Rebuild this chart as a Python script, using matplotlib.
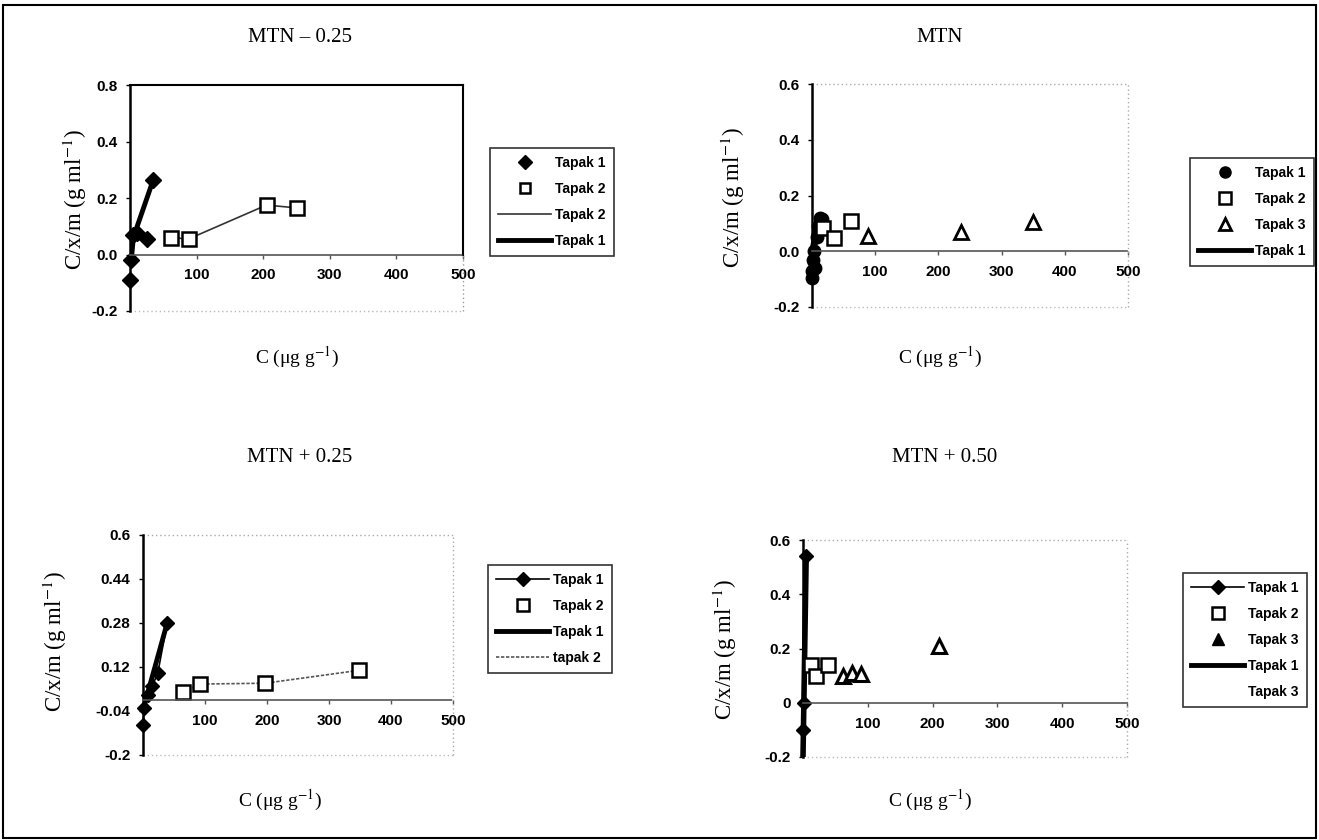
import matplotlib
matplotlib.use('Agg')
import matplotlib.pyplot as plt
from matplotlib.lines import Line2D
from matplotlib.patches import Rectangle

plt.rcParams['font.family'] = ['Liberation Sans', 'DejaVu Sans']
plt.rcParams['mathtext.fontset'] = 'stix'

W, H = 1319, 840

# MTN - 0.25
a_t1_x = [0, 2, 5, 10, 25, 35]
a_t1_y = [-0.09, -0.02, 0.07, 0.075, 0.055, 0.265]
a_t1_line_x = [2, 5, 35]
a_t1_line_y = [-0.02, 0.06, 0.265]
a_t2_x = [62, 88, 205, 250]
a_t2_y = [0.06, 0.055, 0.175, 0.165]
a_yticks = [-0.2, 0.0, 0.2, 0.4, 0.6]
a_ylabels = ['-0.2', '0.0', '0.2', '0.4', '0.8']

# MTN
b_t1_x = [0, 0, 1, 3, 5, 8, 10, 13, 16]
b_t1_y = [-0.095, -0.07, -0.03, 0.0, -0.06, 0.05, 0.09, 0.12, 0.115]
b_t1_line_x = [0, 0, 3, 8, 14]
b_t1_line_y = [-0.1, -0.03, 0.02, 0.08, 0.125]
b_t2_x = [17, 35, 62]
b_t2_y = [0.085, 0.047, 0.11]
b_t3_x = [88, 236, 349]
b_t3_y = [0.053, 0.07, 0.105]
b_yticks = [-0.2, 0.0, 0.2, 0.4, 0.6]
b_ylabels = ['-0.2', '0.0', '0.2', '0.4', '0.6']

# MTN + 0.25
c_t1_x = [0, 2, 8, 15, 24, 39]
c_t1_y = [-0.09, -0.03, 0.02, 0.05, 0.10, 0.28]
c_t1_line_x = [2, 39]
c_t1_line_y = [-0.02, 0.28]
c_t2_x = [65, 92, 197, 349]
c_t2_y = [0.028, 0.058, 0.061, 0.108]
c_yticks = [-0.2, -0.04, 0.12, 0.28, 0.44, 0.6]
c_ylabels = ['-0.2', '-0.04', '0.12', '0.28', '0.44', '0.6']

# MTN + 0.50
d_t1_x = [0, 2, 5]
d_t1_y = [-0.1, 0.0, 0.54]
d_t1_line_x = [0, 5]
d_t1_line_y = [-0.2, 0.55]
d_t2_x = [12, 20, 38]
d_t2_y = [0.14, 0.10, 0.14]
d_t3_x = [62, 76, 90, 210]
d_t3_y = [0.10, 0.11, 0.105, 0.21]
d_yticks = [-0.2, 0.0, 0.2, 0.4, 0.6]
d_ylabels = ['-0.2', '0', '0.2', '0.4', '0.6']

xticks = [100, 200, 300, 400, 500]


def fx(px):
    return px / W


def fy(py):
    return 1 - py / H


def make_axes(fig, left, right, top, bottom, yticks, ylabels, solid_frame=False):
    ax = fig.add_axes([fx(left), fy(bottom), fx(right - left), (bottom - top) / H])
    ax.set_xlim(0, 500)
    ax.set_ylim(-0.2, 0.6)
    for s in ['top', 'right']:
        ax.spines[s].set_visible(False)
    ax.spines['left'].set_linewidth(1.8)
    ax.spines['bottom'].set_position(('data', 0))
    ax.spines['bottom'].set_linestyle((0, (1, 1)))
    ax.spines['bottom'].set_color('#555555')
    ax.spines['bottom'].set_linewidth(1.2)
    dots = (0, (1, 2))
    if solid_frame:
        ax.plot([0, 500], [0.6, 0.6], color='black', lw=1.5, clip_on=False)
        ax.plot([500, 500], [0.0, 0.6], color='black', lw=1.5, clip_on=False)
        ax.plot([500, 500], [-0.2, 0.0], color='#999999', ls=dots, lw=1, clip_on=False)
    else:
        ax.plot([0, 500], [0.6, 0.6], color='#aaaaaa', ls=dots, lw=1, clip_on=False)
        ax.plot([500, 500], [-0.2, 0.6], color='#aaaaaa', ls=dots, lw=1, clip_on=False)
    ax.plot([0, 500], [-0.2, -0.2], color='#bbbbbb', ls=dots, lw=1, clip_on=False)
    ax.set_xticks(xticks)
    ax.set_xticklabels([str(t) for t in xticks], fontweight='bold', fontsize=11)
    ax.set_yticks(yticks)
    ax.set_yticklabels(ylabels, fontweight='bold', fontsize=11)
    ax.tick_params(axis='x', length=3, width=1, pad=7, color='#555555')
    ax.tick_params(axis='y', length=3, width=1, pad=6)
    ax.patch.set_alpha(0)
    return ax


def add_legend(ax, handles, labels, x, y):
    leg = ax.legend(handles, labels, loc='upper left', bbox_to_anchor=(fx(x), fy(y)),
                    bbox_transform=ax.figure.transFigure, frameon=True, fancybox=False,
                    prop={'weight': 'bold', 'size': 10}, handlelength=3.8, handletextpad=0.3,
                    labelspacing=0.85, borderpad=0.6, borderaxespad=0)
    leg.get_frame().set_edgecolor('black')
    leg.get_frame().set_linewidth(1.2)
    return leg


fig = plt.figure(figsize=(W / 100, H / 100), dpi=100)

serif = ['Liberation Serif', 'DejaVu Serif']
ylab = 'C/x/m (g ml$^{-1}$)'
xlab = 'C (\u03bcg g$^{-1}$)'

# panel 1
ax1 = make_axes(fig, 130, 463, 85, 311, a_yticks, a_ylabels, solid_frame=True)
ax1.plot(a_t1_line_x, a_t1_line_y, color='black', lw=3.5, solid_capstyle='butt')
ax1.plot(a_t2_x, a_t2_y, color='#333333', lw=1.2)
ax1.plot(a_t1_x, a_t1_y, ls='none', marker='D', ms=8, color='black', clip_on=False)
ax1.plot(a_t2_x, a_t2_y, ls='none', marker='s', ms=10, mfc='white', mec='black', mew=1.8)
h1 = [Line2D([], [], ls='none', marker='D', ms=7, color='black'),
      Line2D([], [], ls='none', marker='s', ms=7, mfc='white', mec='black', mew=1.8),
      Line2D([], [], color='#333333', lw=1.2),
      Line2D([], [], color='black', lw=3.5)]
add_legend(ax1, h1, ['Tapak 1', 'Tapak 2', 'Tapak 2', 'Tapak 1'], 490, 148)

# panel 2
ax2 = make_axes(fig, 812, 1128, 84, 307, b_yticks, b_ylabels)
ax2.plot(b_t1_line_x, b_t1_line_y, color='black', lw=5, solid_capstyle='butt', clip_on=False)
ax2.plot(b_t1_x, b_t1_y, ls='none', marker='o', ms=9, color='black', clip_on=False)
ax2.plot(b_t2_x, b_t2_y, ls='none', marker='s', ms=10, mfc='white', mec='black', mew=1.8)
ax2.plot(b_t3_x, b_t3_y, ls='none', marker='^', ms=10, mfc='white', mec='black', mew=2)
h2 = [Line2D([], [], ls='none', marker='o', ms=8, color='black'),
      Line2D([], [], ls='none', marker='s', ms=8, mfc='white', mec='black', mew=1.8),
      Line2D([], [], ls='none', marker='^', ms=8, mfc='white', mec='black', mew=2),
      Line2D([], [], color='black', lw=3.5)]
add_legend(ax2, h2, ['Tapak 1', 'Tapak 2', 'Tapak 3', 'Tapak 1'], 1190, 158)

# panel 3
ax3 = make_axes(fig, 143, 453, 535, 755, c_yticks, c_ylabels)
ax3.plot(c_t1_line_x, c_t1_line_y, color='black', lw=3.5, solid_capstyle='butt')
ax3.plot(c_t2_x, c_t2_y, color='#555555', lw=1.2, ls=(0, (2, 1)))
ax3.plot(c_t1_x, c_t1_y, color='black', lw=1.2, marker='D', ms=7, clip_on=False)
ax3.plot(c_t2_x, c_t2_y, ls='none', marker='s', ms=10, mfc='white', mec='black', mew=1.8)
h3 = [Line2D([], [], color='black', lw=1.2, marker='D', ms=7),
      Line2D([], [], ls='none', marker='s', ms=8, mfc='white', mec='black', mew=1.8),
      Line2D([], [], color='black', lw=3.5),
      Line2D([], [], color='#555555', lw=1.2, ls=(0, (2, 1)))]
add_legend(ax3, h3, ['Tapak 1', 'Tapak 2', 'Tapak 1', 'tapak 2'], 488, 565)

# panel 4
ax4 = make_axes(fig, 803, 1127, 540, 757, d_yticks, d_ylabels)
ax4.plot(d_t1_line_x, d_t1_line_y, color='black', lw=4, solid_capstyle='butt', clip_on=False)
ax4.plot(d_t1_x, d_t1_y, color='black', lw=1.2, marker='D', ms=7, clip_on=False)
ax4.plot(d_t2_x, d_t2_y, ls='none', marker='s', ms=10, mfc='white', mec='black', mew=1.8)
ax4.plot(d_t3_x, d_t3_y, ls='none', marker='^', ms=10, mfc='white', mec='black', mew=2.2)
h4 = [Line2D([], [], color='black', lw=1.2, marker='D', ms=7),
      Line2D([], [], ls='none', marker='s', ms=8, mfc='white', mec='black', mew=1.8),
      Line2D([], [], ls='none', marker='^', ms=8, color='black'),
      Line2D([], [], color='black', lw=3.5),
      Line2D([], [], color='none', lw=1)]
add_legend(ax4, h4, ['Tapak 1', 'Tapak 2', 'Tapak 3', 'Tapak 1', 'Tapak 3'], 1183, 573)

# titles and axis labels
for txt, x, y in [('MTN \u2013 0.25', 300, 38), ('MTN', 940, 38),
                  ('MTN + 0.25', 300, 458), ('MTN + 0.50', 945, 458)]:
    fig.text(fx(x), fy(y), txt, ha='center', va='center', fontsize=15, family=serif)

for x, y in [(75, 200), (733, 198), (55, 642), (725, 650)]:
    fig.text(fx(x), fy(y), ylab, ha='center', va='center', rotation=90, fontsize=16.5, family=serif)

for x, y in [(297, 357), (940, 357), (280, 800), (930, 800)]:
    fig.text(fx(x), fy(y), xlab, ha='center', va='center', fontsize=14, family=serif)

fig.patches.append(Rectangle((fx(3), fy(838)), fx(1313), 833 / H, transform=fig.transFigure,
                             fill=False, edgecolor='black', lw=1.5))

fig.savefig('out.png', dpi=100)
